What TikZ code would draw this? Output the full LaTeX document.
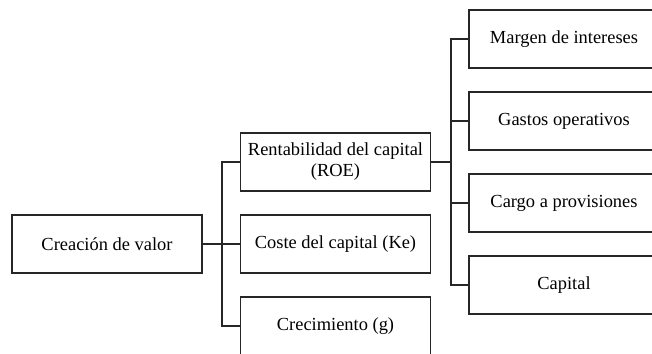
\documentclass[tikz,border=0pt]{standalone}
\usepackage{fontspec}
\setmainfont{Liberation Serif}
\begin{document}
\begin{tikzpicture}[x=1bp,y=-1bp,
  box/.style={draw=black!85,line width=1.3bp,minimum width=190bp,minimum height=58bp,
    inner sep=0pt,align=center,font=\fontsize{18.5}{21}\selectfont,text=black},
  conn/.style={draw=black!85,line width=1.3bp}]
\useasboundingbox (0,0) rectangle (652,353);
\clip (0,0) rectangle (652,353);
\node[box] (crea) at (107,244) {Creación de valor};
\node[box] (roe) at (335.5,162) {Rentabilidad del capital\\(ROE)};
\node[box] (coste) at (335.5,244) {Coste del capital (Ke)};
\node[box] (crec) at (335.5,326) {Crecimiento (g)};
\node[box] (margen) at (564,39) {Margen de intereses};
\node[box] (gastos) at (564,121) {Gastos operativos};
\node[box] (cargo) at (564,203) {Cargo a provisiones};
\node[box] (capital) at (564,285) {Capital};
\coordinate (j1) at (222,244);
\coordinate (j2) at (451,162);
\draw[conn] (crea.east) -- (coste.west);
\draw[conn] (roe.west) -| (j1) |- (crec.west);
\draw[conn] (roe.east) -- (j2);
\draw[conn] (margen.west) -| (j2) |- (capital.west);
\draw[conn] (j2 |- gastos.west) -- (gastos.west);
\draw[conn] (j2 |- cargo.west) -- (cargo.west);
\end{tikzpicture}
\end{document}
